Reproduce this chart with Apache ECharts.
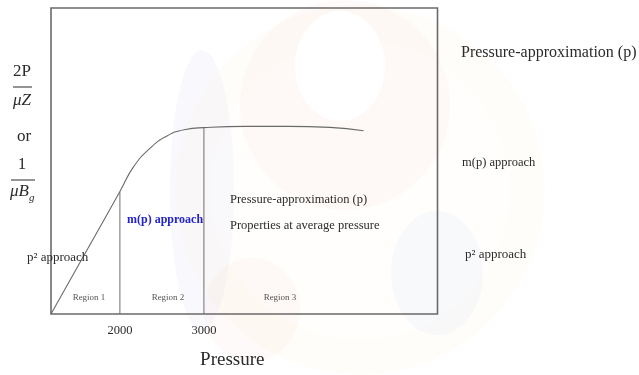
<!DOCTYPE html>
<html>
<head>
<meta charset="utf-8">
<script src="https://cdn.jsdelivr.net/npm/echarts@6/dist/echarts.min.js"></script>
<style>
  html, body { margin: 0; padding: 0; background: #ffffff; }
  #chart { width: 639px; height: 375px; }
</style>
</head>
<body>
<div id="chart"></div>
<script>
// Flow term against pressure: straight rise to 2000, bend, then plateau
const pressure = [1180, 1590, 2000, 2160, 2360, 2560, 2780, 3000, 3500, 4000, 4500, 4900];
const flowTerm = [0, 20, 40, 48, 54.2, 58.2, 60.3, 60.9, 61.3, 61.3, 61.0, 59.9];

// Region boundaries and the curve height at each
const boundaryPressure = [2000, 3000];
const boundaryRate = [40, 60.9];

// Tick labels on the pressure axis
const pressureTicks = [2000, 3000];

const SERIF = '"Liberation Serif", "DejaVu Serif", serif';
const INK = '#2b2b2b';

const chart = echarts.init(document.getElementById('chart'), null, { renderer: 'canvas' });

function pairs(xs, ys) { return xs.map((x, i) => [x, ys[i]]); }

const boundarySeries = boundaryPressure.map((p, i) => ({
  type: 'line',
  data: [[p, 0], [p, boundaryRate[i]]],
  symbol: 'none',
  lineStyle: { color: '#6e6e6e', width: 1 },
  z: 3
}));

function txt(x, y, text, size, opts) {
  return {
    type: 'text',
    z: 100,
    style: Object.assign({
      x: x, y: y, text: text,
      font: size + 'px ' + SERIF,
      fill: INK,
      textAlign: 'left', align: 'left',
      textVerticalAlign: 'middle', verticalAlign: 'middle'
    }, opts || {})
  };
}

// faint emblem shapes in the slide background
const watermark = [
  { type: 'circle', shape: { cx: 360, cy: 190, r: 185 }, style: { fill: 'rgba(250,215,150,0.06)' }, z: -5 },
  { type: 'circle', shape: { cx: 360, cy: 190, r: 150 }, style: { fill: 'rgba(255,255,255,0.5)' }, z: -4 },
  { type: 'ellipse', shape: { cx: 345, cy: 105, rx: 105, ry: 105 }, style: { fill: 'rgba(245,195,185,0.08)' }, z: -3 },
  { type: 'ellipse', shape: { cx: 340, cy: 66, rx: 45, ry: 55 }, style: { fill: '#ffffff' }, z: -2 },
  { type: 'ellipse', shape: { cx: 202, cy: 190, rx: 32, ry: 140 }, style: { fill: 'rgba(195,200,240,0.10)' }, z: -3 },
  { type: 'ellipse', shape: { cx: 252, cy: 310, rx: 48, ry: 52 }, style: { fill: 'rgba(245,195,185,0.09)' }, z: -3 },
  { type: 'ellipse', shape: { cx: 437, cy: 273, rx: 46, ry: 62 }, style: { fill: 'rgba(195,205,245,0.11)' }, z: -3 }
];

const annotations = [
  // vertical axis quantity
  txt(22, 72, '2P', 17, { textAlign: 'center', align: 'center' }),
  { type: 'line', z: 100, shape: { x1: 13, y1: 87, x2: 32, y2: 87 }, style: { stroke: INK, lineWidth: 1 } },
  txt(22, 101, 'μZ', 17, { textAlign: 'center', align: 'center', font: 'italic 17px ' + SERIF }),
  txt(24, 137, 'or', 17, { textAlign: 'center', align: 'center' }),
  txt(22, 165, '1', 17, { textAlign: 'center', align: 'center' }),
  { type: 'line', z: 100, shape: { x1: 11, y1: 180, x2: 35, y2: 180 }, style: { stroke: INK, lineWidth: 1 } },
  txt(10, 192, 'μB', 17, { font: 'italic 17px ' + SERIF }),
  txt(29, 198, 'g', 11, { font: 'italic 11px ' + SERIF }),

  // region names
  txt(89, 298, 'Region 1', 9, { textAlign: 'center', align: 'center', fill: '#555' }),
  txt(168, 298, 'Region 2', 9, { textAlign: 'center', align: 'center', fill: '#555' }),
  txt(280, 298, 'Region 3', 9, { textAlign: 'center', align: 'center', fill: '#555' }),

  // labels inside the plot
  txt(127, 220, 'm(p) approach', 12, { font: 'bold 12px ' + SERIF, fill: '#2323c8' }),
  txt(27, 258, 'p² approach', 13),
  txt(230, 200, 'Pressure-approximation (p)', 12.5),
  txt(230, 226, 'Properties at average pressure', 12.5),

  // labels to the right
  txt(461, 53, 'Pressure-approximation (p)', 16),
  txt(462, 163, 'm(p) approach', 12.5),
  txt(465, 255, 'p² approach', 13)
];

chart.setOption({
  animation: false,
  backgroundColor: '#ffffff',
  grid: {
    left: 51, top: 8, width: 386.5, height: 314.5,
    show: true, borderColor: '#6a6a6a', borderWidth: 1.6,
    backgroundColor: 'transparent'
  },
  xAxis: {
    type: 'value',
    min: 1180, max: 5780,
    splitLine: { show: false },
    axisLine: { show: false },
    axisTick: { show: false },
    axisLabel: {
      customValues: pressureTicks,
      formatter: (v) => String(v),
      fontFamily: SERIF, fontSize: 12.5, color: INK, margin: 10
    },
    name: 'Pressure',
    nameLocation: 'middle',
    nameGap: 37,
    nameTextStyle: { fontFamily: SERIF, fontSize: 19, color: INK, padding: [0, 24, 0, 0] }
  },
  yAxis: {
    type: 'value',
    min: 0, max: 100,
    splitLine: { show: false },
    axisLine: { show: false },
    axisTick: { show: false },
    axisLabel: { show: false }
  },
  series: [
    {
      type: 'line',
      data: pairs(pressure, flowTerm),
      symbol: 'none',
      smooth: 0.5,
      lineStyle: { color: '#6a6a6a', width: 1.1 },
      z: 4
    }
  ].concat(boundarySeries),
  graphic: watermark.concat(annotations)
});
</script>
</body>
</html>
